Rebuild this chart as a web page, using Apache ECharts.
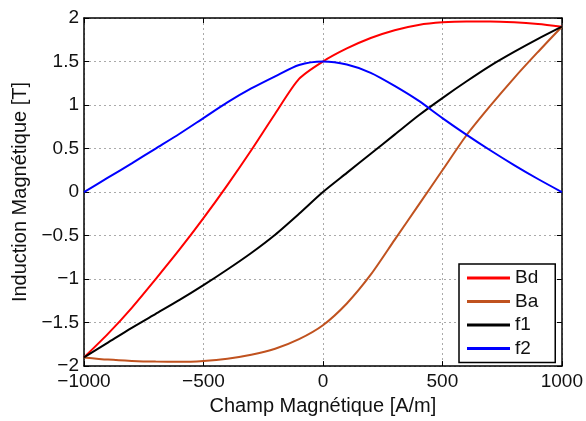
<!DOCTYPE html>
<html>
<head>
<meta charset="utf-8">
<script src="https://cdn.jsdelivr.net/npm/echarts@6/dist/echarts.min.js"></script>
<style>
html,body{margin:0;padding:0;background:#fff;}
#chart{width:586px;height:421px;}
</style>
</head>
<body>
<div id="chart"></div>
<script>
const xValues = [-1000,-900,-800,-700,-600,-500,-400,-300,-200,-100,0,100,200,300,400,500,600,700,800,900,1000];
const bd = [-1.9,-1.63,-1.33,-1.0,-0.66,-0.3,0.08,0.48,0.9,1.3,1.5,1.65,1.77,1.86,1.92,1.95,1.96,1.96,1.95,1.93,1.9];
const ba = [-1.9,-1.925,-1.94,-1.948,-1.95,-1.94,-1.915,-1.87,-1.8,-1.69,-1.53,-1.28,-0.95,-0.55,-0.15,0.25,0.65,0.99,1.31,1.61,1.9];
const f1 = [-1.9,-1.73,-1.56,-1.4,-1.24,-1.07,-0.89,-0.7,-0.49,-0.25,0,0.22,0.44,0.66,0.88,1.08,1.27,1.45,1.61,1.76,1.9];
const f2 = [0,0.165,0.33,0.5,0.67,0.85,1.03,1.19,1.33,1.46,1.5,1.465,1.37,1.22,1.05,0.85,0.66,0.48,0.31,0.15,0];
const seriesNames = ['Bd','Ba','f1','f2'];
const seriesColors = ['#ff0000','#c0521f','#000000','#0000ff'];
const seriesData = [bd, ba, f1, f2];
const xTicks = {min:-1000, max:1000, interval:500};
const yTicks = {min:-2, max:2, interval:0.5};
const xName = 'Champ Magnétique [A/m]';
const yName = 'Induction Magnétique [T]';

const font = "'Liberation Sans', Arial, sans-serif";
const fmt = v => String(v).replace('-', '\u2212');
const pair = ys => xValues.map((x,i)=>[x, ys[i]]);

const chart = echarts.init(document.getElementById('chart'), null, {renderer:'canvas'});
const axisCommon = {
  axisLine:{show:true, onZero:false, lineStyle:{color:'#000', width:1.5}},
  axisTick:{show:true, inside:true, length:5, lineStyle:{color:'#000', width:1}},
};
chart.setOption({
  animation:false,
  backgroundColor:'#fff',
  grid:{left:84, right:23, top:18, bottom:51, containLabel:false},
  xAxis:[
    Object.assign({
      type:'value', min:xTicks.min, max:xTicks.max, interval:xTicks.interval, position:'bottom',
      name:xName, nameLocation:'middle', nameGap:26,
      nameTextStyle:{fontFamily:font, fontSize:20, color:'#111'},
      axisLabel:{fontFamily:font, fontSize:19, color:'#111', margin:6, formatter:fmt},
      splitLine:{show:true, lineStyle:{color:'#aaa', width:1, type:[2,3]}}
    }, axisCommon),
    Object.assign({
      type:'value', min:xTicks.min, max:xTicks.max, interval:xTicks.interval, position:'top',
      axisLabel:{show:false}, splitLine:{show:false}
    }, axisCommon)
  ],
  yAxis:[
    Object.assign({
      type:'value', min:yTicks.min, max:yTicks.max, interval:yTicks.interval, position:'left',
      name:yName, nameLocation:'middle', nameGap:52,
      nameTextStyle:{fontFamily:font, fontSize:20, color:'#111'},
      axisLabel:{fontFamily:font, fontSize:19, color:'#111', margin:5, formatter:fmt},
      splitLine:{show:true, lineStyle:{color:'#aaa', width:1, type:[2,3]}}
    }, axisCommon),
    Object.assign({
      type:'value', min:yTicks.min, max:yTicks.max, interval:yTicks.interval, position:'right',
      axisLabel:{show:false}, splitLine:{show:false}
    }, axisCommon)
  ],
  legend:{
    left:459, top:264, orient:'vertical',
    backgroundColor:'#fff', borderColor:'#000', borderWidth:1.5, borderRadius:0,
    padding:[4,17,4,8], itemGap:3.5, itemWidth:43, itemHeight:3, icon:'rect',
    textStyle:{fontFamily:font, fontSize:19, color:'#111', lineHeight:20},
    data:seriesNames
  },
  series: seriesNames.map((n,i)=>({
    name:n, type:'line', data:pair(seriesData[i]), symbol:'none', smooth:0.25,
    lineStyle:{color:seriesColors[i], width:2}, itemStyle:{color:seriesColors[i]},
    z: 3
  }))
});
</script>
</body>
</html>
